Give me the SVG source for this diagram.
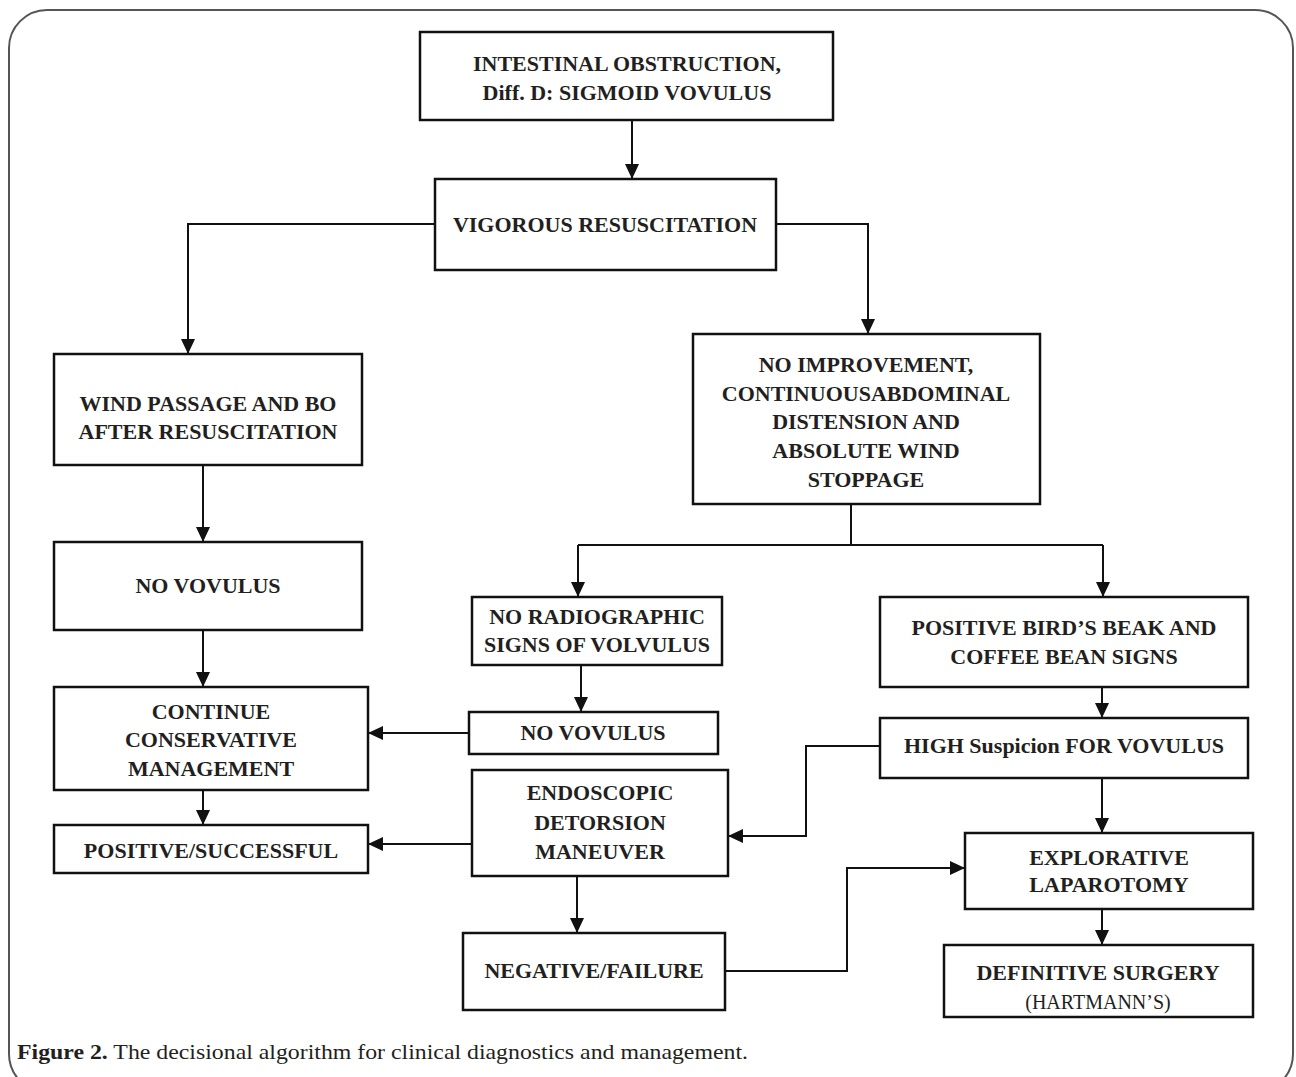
<svg xmlns="http://www.w3.org/2000/svg" width="1296" height="1077" viewBox="0 0 1296 1077">
<defs>
<style>
.box{fill:#fff;stroke:#111;stroke-width:2.5}
.t{font-family:"Liberation Serif","Times New Roman",serif;font-weight:bold;font-size:22px;fill:#231f20;text-anchor:middle}
.r{font-weight:normal}
.c{fill:none;stroke:#111;stroke-width:2}
.cap{font-family:"Liberation Serif","Times New Roman",serif;font-size:21px;fill:#231f20}
</style>
<marker id="ah" markerUnits="userSpaceOnUse" markerWidth="16" markerHeight="14" refX="15" refY="7" orient="auto">
<path d="M0,0 L15,7 L0,14 Z" fill="#111"/>
</marker>
</defs>
<rect x="9" y="10" width="1284" height="1082" rx="38" ry="38" fill="#fff" stroke="#555" stroke-width="2"/>
<g id="connectors">
<path class="c" d="M632,120 V179" marker-end="url(#ah)"/>
<path class="c" d="M435,224 H188 V354" marker-end="url(#ah)"/>
<path class="c" d="M776,224 H868 V334" marker-end="url(#ah)"/>
<path class="c" d="M203,465 V542" marker-end="url(#ah)"/>
<path class="c" d="M203,630 V687" marker-end="url(#ah)"/>
<path class="c" d="M203,790 V825" marker-end="url(#ah)"/>
<path class="c" d="M851,504 V545"/>
<path class="c" d="M578,545 H1103"/>
<path class="c" d="M578,545 V597" marker-end="url(#ah)"/>
<path class="c" d="M1103,545 V597" marker-end="url(#ah)"/>
<path class="c" d="M581,665 V712" marker-end="url(#ah)"/>
<path class="c" d="M469,733 H368" marker-end="url(#ah)"/>
<path class="c" d="M472,844 H368" marker-end="url(#ah)"/>
<path class="c" d="M1102,687 V718" marker-end="url(#ah)"/>
<path class="c" d="M880,746 H806 V836 H728" marker-end="url(#ah)"/>
<path class="c" d="M1102,778 V833" marker-end="url(#ah)"/>
<path class="c" d="M1102,909 V945" marker-end="url(#ah)"/>
<path class="c" d="M577,876 V933" marker-end="url(#ah)"/>
<path class="c" d="M725,971 H847 V868 H965" marker-end="url(#ah)"/>
</g>
<g id="n1"><rect class="box" x="420" y="32" width="413" height="88"/>
<text class="t" x="627" y="71">INTESTINAL OBSTRUCTION,</text>
<text class="t" x="627" y="100">Diff. D: SIGMOID VOVULUS</text></g>
<g id="n2"><rect class="box" x="435" y="179" width="341" height="91"/>
<text class="t" x="605" y="232">VIGOROUS RESUSCITATION</text></g>
<g id="n3"><rect class="box" x="54" y="354" width="308" height="111"/>
<text class="t" x="208" y="411">WIND PASSAGE AND BO</text>
<text class="t" x="208" y="439">AFTER RESUSCITATION</text></g>
<g id="n4"><rect class="box" x="693" y="334" width="347" height="170"/>
<text class="t" x="866" y="372">NO IMPROVEMENT,</text>
<text class="t" x="866" y="401">CONTINUOUSABDOMINAL</text>
<text class="t" x="866" y="429">DISTENSION AND</text>
<text class="t" x="866" y="458">ABSOLUTE WIND</text>
<text class="t" x="866" y="487">STOPPAGE</text></g>
<g id="n5"><rect class="box" x="54" y="542" width="308" height="88"/>
<text class="t" x="208" y="593">NO VOVULUS</text></g>
<g id="n6"><rect class="box" x="54" y="687" width="314" height="103"/>
<text class="t" x="211" y="719">CONTINUE</text>
<text class="t" x="211" y="747">CONSERVATIVE</text>
<text class="t" x="211" y="776">MANAGEMENT</text></g>
<g id="n7"><rect class="box" x="54" y="825" width="314" height="48"/>
<text class="t" x="211" y="858">POSITIVE/SUCCESSFUL</text></g>
<g id="n8"><rect class="box" x="472" y="597" width="250" height="68"/>
<text class="t" x="597" y="624">NO RADIOGRAPHIC</text>
<text class="t" x="597" y="652">SIGNS OF VOLVULUS</text></g>
<g id="n9"><rect class="box" x="469" y="712" width="249" height="42"/>
<text class="t" x="593" y="740">NO VOVULUS</text></g>
<g id="n10"><rect class="box" x="472" y="770" width="256" height="106"/>
<text class="t" x="600" y="800">ENDOSCOPIC</text>
<text class="t" x="600" y="830">DETORSION</text>
<text class="t" x="600" y="859">MANEUVER</text></g>
<g id="n11"><rect class="box" x="463" y="933" width="262" height="77"/>
<text class="t" x="594" y="978">NEGATIVE/FAILURE</text></g>
<g id="n12"><rect class="box" x="880" y="597" width="368" height="90"/>
<text class="t" x="1064" y="635">POSITIVE BIRD’S BEAK AND</text>
<text class="t" x="1064" y="664">COFFEE BEAN SIGNS</text></g>
<g id="n13"><rect class="box" x="880" y="718" width="368" height="60"/>
<text class="t" x="1064" y="753">HIGH Suspicion FOR VOVULUS</text></g>
<g id="n14"><rect class="box" x="965" y="833" width="288" height="76"/>
<text class="t" x="1109" y="865">EXPLORATIVE</text>
<text class="t" x="1109" y="892">LAPAROTOMY</text></g>
<g id="n15"><rect class="box" x="944" y="945" width="309" height="72"/>
<text class="t" x="1098" y="980">DEFINITIVE SURGERY</text>
<text class="t r" x="1098" y="1009" style="font-size:20px">(HARTMANN’S)</text></g>
<text class="cap" x="17" y="1059" textLength="731" lengthAdjust="spacingAndGlyphs"><tspan font-weight="bold">Figure 2.</tspan>  The decisional algorithm for clinical diagnostics and management.</text>
</svg>
